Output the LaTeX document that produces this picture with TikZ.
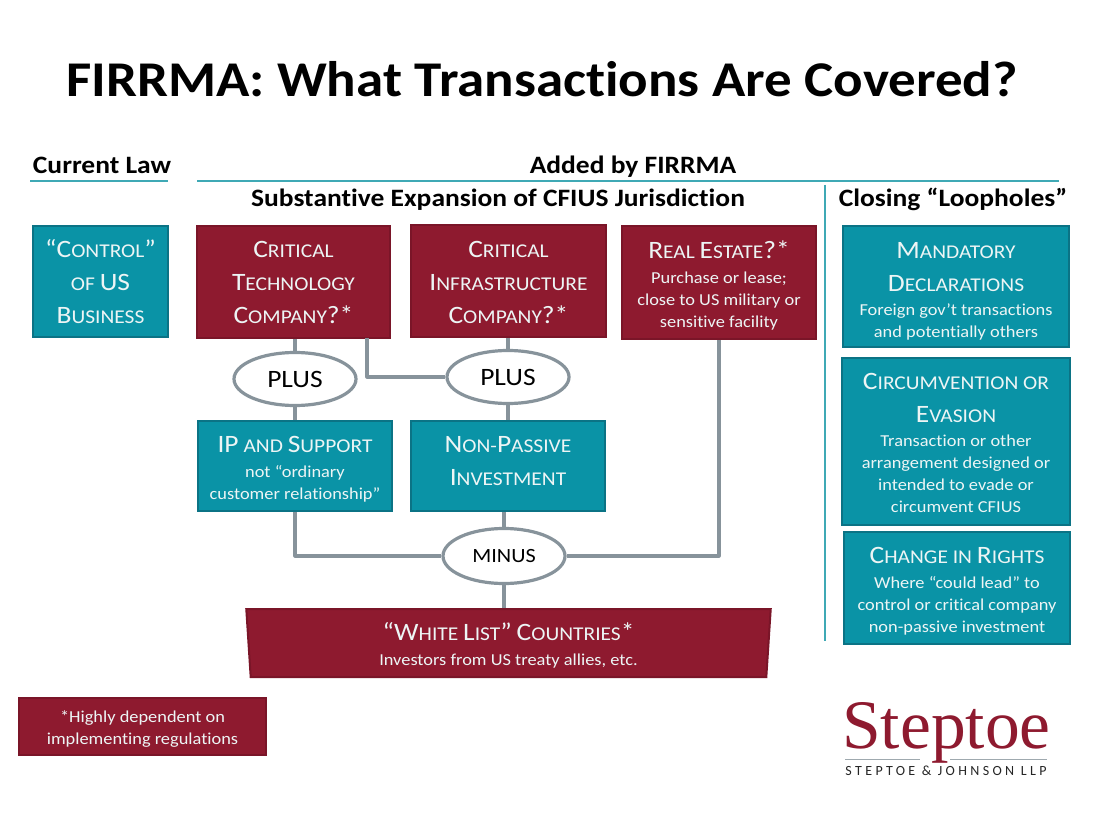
\documentclass[tikz,border=0pt]{standalone}
\usepackage{fontspec}
\setmainfont[FakeStretch=1.1,Ligatures=NoCommon]{Carlito}
\newfontfamily\logofont{Liberation Serif}
\newfontfamily\logosans[LetterSpace=24]{Carlito}
\usetikzlibrary{shapes.geometric}
\definecolor{tealfill}{HTML}{0A93A6}
\definecolor{tealedge}{HTML}{0B7385}
\definecolor{tealrule}{HTML}{3FA9B5}
\definecolor{redfill}{HTML}{8E1A2F}
\definecolor{rededge}{HTML}{7A1528}
\definecolor{connector}{HTML}{87939B}
\definecolor{boxtext}{HTML}{EDF5F5}
\newcommand\CP[1]{{\fontsize{25}{33}\selectfont #1}}
\newcommand\SM[1]{{\fontsize{16.7}{22}\selectfont #1}}
\newcommand\DN[1]{\rule{0pt}{#1}}
\newcommand\UP[1]{\rule[-#1]{0pt}{#1}}
\tikzset{
  x=1pt,y=-1pt,
  head/.style={font=\fontsize{25}{28}\selectfont\bfseries,text=black,inner sep=0pt},
  box/.style={rectangle,line width=2pt,align=center,text=boxtext,inner sep=0pt,
    font=\fontsize{19.5}{33}\selectfont},
  tealbox/.style={box,fill=tealfill,draw=tealedge},
  redbox/.style={box,fill=redfill,draw=rededge},
  oval/.style={ellipse,draw=connector,line width=3.2pt,fill=white,text=black,inner sep=0pt,
    minimum width=122pt,minimum height=53pt},
  link/.style={draw=connector,line width=3.2pt,line join=round},
  rulet/.style={draw=tealrule,line width=1.5pt},
}
\begin{document}
\begin{tikzpicture}
\useasboundingbox (0,0) rectangle (1100,821);
\fill[white] (0,0) rectangle (1100,821);

\node[inner sep=0pt,font=\fontsize{50}{56}\selectfont\bfseries] (title) at (542,79) {FIRRMA: What Transactions Are Covered?};

\node[head] (current) at (102,165) {Current Law};
\node[head] (added) at (633,167) {Added by FIRRMA};
\node[head] (subst) at (498,200) {Substantive Expansion of CFIUS Jurisdiction};
\node[head] (closing) at (953,199) {Closing “Loopholes”};
\draw[rulet] (30,181) -- (168,181);
\draw[rulet] (197,181) -- (1059,181);
\draw[rulet] (825,185) -- (825,641);

\node[tealbox,minimum width=135pt,minimum height=111pt] (control) at (100.5,281.5)
  {\DN{19pt}\CP{“C}ONTROL\CP{”}\\OF \CP{US}\\\CP{B}USINESS};
\node[redbox,minimum width=193pt,minimum height=112pt] (tech) at (293.5,282)
  {\CP{C}RITICAL\\\CP{T}ECHNOLOGY\\\CP{C}OMPANY\CP{?*}};
\node[redbox,minimum width=195pt,minimum height=112pt] (infra) at (508.5,281)
  {\DN{19pt}\CP{C}RITICAL\\\CP{I}NFRASTRUCTURE\\\CP{C}OMPANY\CP{?*}};
\node[redbox,minimum width=194pt,minimum height=113pt] (estate) at (719,282.5)
  {\DN{24pt}\CP{R}EAL \CP{E}STATE\CP{?*}\\[-8pt]\SM{Purchase or lease;}\\[-11pt]\SM{close to US military or}\\[-11pt]\SM{sensitive facility}};

\node[tealbox,minimum width=226pt,minimum height=121pt] (mand) at (956,286.5)
  {\DN{26pt}\CP{M}ANDATORY\\\CP{D}ECLARATIONS\\[-9pt]\SM{Foreign gov’t transactions}\\[-11pt]\SM{and potentially others}};
\node[tealbox,minimum width=228pt,minimum height=167pt] (circ) at (956,441.5)
  {\DN{19pt}\CP{C}IRCUMVENTION OR\\\CP{E}VASION\\[-9pt]\SM{Transaction or other}\\[-11pt]\SM{arrangement designed or}\\[-11pt]\SM{intended to evade or}\\[-11pt]\SM{circumvent CFIUS}};
\node[tealbox,minimum width=226pt,minimum height=112pt] (change) at (957,588)
  {\DN{23pt}\CP{C}HANGE IN \CP{R}IGHTS\\[-8pt]\SM{Where “could lead” to}\\[-11pt]\SM{control or critical company}\\[-11pt]\SM{non-passive investment}};

\node[tealbox,minimum width=194pt,minimum height=90pt] (ip) at (295,466)
  {\DN{23pt}\CP{IP} AND \CP{S}UPPORT\\[-8pt]\SM{not “ordinary}\\[-11pt]\SM{customer relationship”}};
\node[tealbox,minimum width=194pt,minimum height=90pt] (passive) at (508,466)
  {\CP{N}ON-\CP{P}ASSIVE\\\UP{10pt}\CP{I}NVESTMENT};

\node[trapezium,shape border rotate=180,trapezium stretches=true,trapezium angle=87.5,
  fill=redfill,draw=rededge,line width=2pt,align=center,text=boxtext,inner sep=0pt,
  minimum width=525pt,minimum height=68pt,font=\fontsize{19.5}{33}\selectfont] (white) at (508.5,643)
  {\DN{23pt}\CP{“W}HITE \CP{L}IST\CP{”} \CP{C}OUNTRIES\CP{*}\\[-8pt]\SM{Investors from US treaty allies, etc.}};

\node[redbox,minimum width=247pt,minimum height=57pt] (note) at (142.5,726.5)
  {\DN{16pt}\SM{*Highly dependent on}\\[-11pt]\SM{implementing regulations}};

\node[oval,font=\fontsize{25}{28}\selectfont] (plusa) at (295,379) {PLUS};
\node[oval,font=\fontsize{25}{28}\selectfont] (plusb) at (508,377) {PLUS};
\node[oval,minimum height=55pt,font=\fontsize{20.2}{22}\selectfont] (minus) at (504,556) {MINUS};

\coordinate (techdrop) at (367,338);
\draw[link] (tech.south -| plusa.north) -- (plusa.north);
\draw[link] (plusa.south) -- (ip.north -| plusa.south);
\draw[link] (infra.south -| plusb.north) -- (plusb.north);
\draw[link] (plusb.south) -- (passive.north -| plusb.south);
\draw[link] (techdrop) |- (plusb.west);
\draw[link] (ip.south) |- (minus.west);
\draw[link] (passive.south -| minus.north) -- (minus.north);
\draw[link] (estate.south) |- (minus.east);
\draw[link] (minus.south) -- (white.north -| minus.south);

\node[inner sep=0pt,anchor=base,text=redfill,font=\logofont\fontsize{69.5}{70}\selectfont] (logo) at (946.5,748) {Steptoe};
\draw[connector!80,line width=1pt] (845,759) -- (920,759);
\draw[connector!80,line width=1pt] (950,759) -- (1047,759);
\node[inner sep=0pt,text=black!85,font=\logosans\fontsize{14}{16}\selectfont] (logotext) at (946,771) {STEPTOE \& JOHNSON LLP};
\end{tikzpicture}
\end{document}
